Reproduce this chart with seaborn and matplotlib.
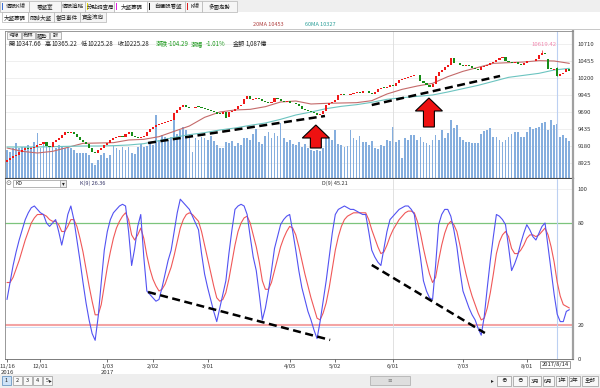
import numpy as np
import matplotlib
matplotlib.use("Agg")
import matplotlib.pyplot as plt
import seaborn as sns
from matplotlib.patches import Rectangle, FancyArrow

sns.set_theme(style="white")
plt.rcParams['font.family'] = ['Noto Sans CJK TC', 'DejaVu Sans']

# ---- data (trading day index 0 = 2016/11/16) ----
close_px = [
    8970, 9000, 9030, 9045, 9090, 9120, 9150, 9140, 9150, 9165,
    9195, 9210, 9240, 9180, 9160, 9240, 9270, 9300, 9345, 9390,
    9375, 9390, 9360, 9315, 9270, 9240, 9210, 9150, 9090, 9075,
    9120, 9150, 9195, 9225, 9270, 9300, 9320, 9330, 9320, 9360,
    9385, 9330, 9315, 9300, 9310, 9330, 9390, 9440, 9465, 9495,
    9510, 9525, 9540, 9560, 9570, 9680, 9720, 9760, 9790, 9760,
    9750, 9755, 9760, 9765, 9750, 9740, 9720, 9700, 9690, 9665,
    9660, 9690, 9600, 9690, 9700, 9740, 9780, 9800, 9890, 9930,
    9880, 9890, 9900, 9890, 9850, 9840, 9830, 9840, 9900, 9880,
    9850, 9840, 9850, 9830, 9820, 9810, 9780, 9740, 9720, 9700,
    9690, 9670, 9650, 9660, 9700, 9800, 9830, 9845, 9870, 9950,
    9960, 9940, 9950, 9960, 9980, 9990, 9975, 10000, 10010, 9980,
    9960, 9990, 10030, 10050, 10050, 10060, 10090, 10080, 10120, 10170,
    10185, 10200, 10210, 10230, 10240, 10245, 10160, 10120, 10100, 10070,
    10110, 10230, 10290, 10320, 10370, 10390, 10500, 10430, 10420, 10390,
    10380, 10390, 10380, 10350, 10330, 10320, 10360, 10380, 10400, 10420,
    10440, 10470, 10500, 10510, 10450, 10440, 10430, 10440, 10410, 10400,
    10430, 10450, 10460, 10450, 10480, 10540, 10580, 10560, 10330, 10335,
    10329.57, 10225.28, 10260, 10280, 10340, 10300,
]
open_px = [
    8940, 8975, 9000, 9030, 9040, 9090, 9120, 9155, 9140, 9150,
    9165, 9200, 9210, 9240, 9185, 9165, 9240, 9270, 9300, 9345,
    9395, 9375, 9390, 9360, 9315, 9270, 9240, 9210, 9150, 9095,
    9075, 9120, 9150, 9195, 9225, 9270, 9300, 9320, 9335, 9320,
    9360, 9385, 9335, 9315, 9300, 9310, 9330, 9390, 9440, 9470,
    9495, 9510, 9525, 9540, 9560, 9575, 9680, 9720, 9760, 9790,
    9765, 9745, 9755, 9770, 9765, 9750, 9740, 9720, 9700, 9690,
    9670, 9660, 9690, 9610, 9690, 9700, 9740, 9780, 9810, 9890,
    9930, 9875, 9890, 9905, 9890, 9855, 9840, 9830, 9845, 9900,
    9880, 9855, 9840, 9850, 9830, 9820, 9810, 9780, 9740, 9720,
    9700, 9690, 9670, 9650, 9660, 9700, 9800, 9830, 9845, 9870,
    9950, 9960, 9940, 9950, 9960, 9980, 9990, 9975, 10000, 10010,
    9980, 9960, 9990, 10030, 10055, 10050, 10060, 10090, 10080, 10120,
    10170, 10185, 10200, 10210, 10230, 10240, 10245, 10160, 10120, 10100,
    10070, 10110, 10230, 10290, 10320, 10370, 10390, 10500, 10430, 10420,
    10390, 10380, 10390, 10380, 10350, 10330, 10320, 10360, 10380, 10400,
    10420, 10440, 10470, 10500, 10510, 10450, 10440, 10430, 10440, 10410,
    10400, 10430, 10450, 10460, 10450, 10480, 10540, 10580, 10480, 10340,
    10320, 10347.66, 10230, 10260, 10290, 10330,
]
# turnover, 億
volume = [
    560, 520, 600, 700, 600, 620, 620, 660, 620, 720,
    900, 600, 700, 660, 620, 660, 600, 660, 620, 600,
    620, 600, 560, 500, 500, 500, 500, 460, 300, 260,
    360, 460, 500, 400, 460, 640, 600, 560, 620, 560,
    620, 500, 480, 620, 680, 620, 640, 700, 660, 1260,
    760, 860, 820, 760, 820, 1160, 880, 960, 1020, 960,
    860, 520, 800, 760, 820, 800, 760, 840, 740, 660,
    600, 600, 720, 700, 740, 640, 700, 660, 800, 800,
    760, 880, 980, 720, 680, 840, 920, 800, 900, 840,
    1100, 800, 720, 760, 680, 660, 720, 620, 680, 600,
    560, 540, 560, 540, 600, 860, 800, 760, 960, 680,
    660, 620, 640, 960, 800, 760, 840, 720, 720, 660,
    740, 600, 580, 660, 640, 760, 740, 1020, 720, 760,
    400, 800, 760, 860, 860, 760, 820, 720, 700, 660,
    760, 860, 760, 960, 800, 900, 1160, 1000, 1060, 820,
    760, 720, 720, 700, 700, 700, 880, 940, 960, 1000,
    820, 820, 760, 720, 760, 820, 880, 920, 920, 820,
    820, 920, 1020, 980, 1000, 1020, 1100, 1120, 960, 1160,
    1060, 1087, 820, 860, 800, 740,
]
k_line = [
    35, 45, 55, 63, 70, 76, 82, 86, 89, 90,
    88, 86, 85, 80, 78, 80, 82, 75, 67, 75,
    85, 90, 82, 70, 58, 45, 33, 23, 15, 11,
    25, 45, 64, 75, 82, 86, 88, 90, 91, 90,
    75, 55, 65, 78, 85, 60, 40, 38, 36, 34,
    35, 42, 50, 58, 64, 75, 86, 94, 92, 90,
    88, 84, 80, 76, 62, 50, 42, 35, 28, 22,
    30, 38, 46, 62, 76, 88, 90, 91, 90, 85,
    72, 60, 52, 38, 23, 30, 40, 52, 65, 72,
    79, 82, 84, 85, 75, 64, 52, 42, 35, 28,
    23, 17, 12, 22, 34, 46, 60, 74, 85, 88,
    89, 90, 89, 88, 88, 87, 86, 85, 85, 75,
    64, 60, 57, 55, 65, 75, 82, 84, 86, 88,
    89, 90, 90, 88, 85, 72, 60, 46, 40, 36,
    35, 55, 79, 85, 88, 88, 84, 76, 66, 52,
    40, 35, 30, 26, 23, 18, 14, 25, 42, 58,
    72, 85, 84, 82, 79, 66, 52, 56, 61, 68,
    74, 79, 76, 72, 70, 74, 78, 80, 66, 52,
    38, 26.36, 22, 22, 28, 29,
]
d_line = [
    45, 45, 48, 53, 58, 64, 70, 75, 80, 83,
    85, 85, 85, 84, 82, 81, 81, 79, 75, 75,
    78, 82, 82, 78, 71, 63, 53, 43, 34, 26,
    26, 32, 43, 54, 63, 71, 77, 81, 84, 86,
    82, 73, 70, 73, 77, 71, 61, 53, 47, 43,
    40, 41, 44, 49, 54, 61, 69, 77, 82, 85,
    86, 85, 83, 81, 75, 67, 59, 51, 43, 36,
    34, 35, 39, 47, 57, 67, 75, 80, 83, 84,
    80, 73, 66, 57, 46, 41, 41, 45, 52, 59,
    66, 71, 75, 78, 77, 73, 66, 58, 50, 43,
    36, 30, 24, 23, 27, 33, 42, 53, 64, 72,
    78, 82, 84, 85, 86, 86, 86, 86, 86, 82,
    76, 71, 66, 62, 63, 67, 72, 76, 79, 82,
    84, 86, 87, 87, 86, 81, 74, 65, 57, 50,
    45, 48, 58, 67, 74, 79, 81, 79, 75, 67,
    58, 50, 43, 37, 32, 27, 23, 24, 30, 39,
    50, 62, 69, 73, 75, 72, 65, 62, 62, 64,
    67, 71, 73, 73, 72, 73, 75, 77, 73, 66,
    57, 45.21, 37, 32, 31, 30,
]
ma_days = list(range(0, 186, 5))
ma20 = [9150, 9100, 9075, 9100, 9160, 9220, 9225, 9230, 9270, 9280,
        9320, 9400, 9480, 9610, 9690, 9720, 9730, 9770, 9840, 9855,
        9810, 9820, 9825, 9830, 9860, 9960, 10030, 10080, 10120, 10220,
        10300, 10360, 10420, 10430, 10440, 10460, 10455, 10420]
ma60 = [9165, 9165, 9165, 9170, 9175, 9180, 9180, 9185, 9195, 9215,
        9260, 9310, 9350, 9380, 9420, 9450, 9490, 9525, 9580, 9645,
        9690, 9740, 9775, 9800, 9835, 9880, 9905, 9925, 9945, 9990,
        10040, 10090, 10150, 10210, 10240, 10270, 10320, 10345]

tick_days = [0, 11, 33, 48, 66, 93, 108, 127, 150, 171]
tick_labels = ['11/16\n2016', '12/01', '1/03\n2017', '2/02', '3/01', '4/05',
               '5/02', '6/01', '7/03', '8/01']
price_ticks = [10710, 10455, 10200, 9945, 9690, 9435, 9180, 8925]
kd_ticks = [0, 20, 80, 100]

peak_day, peak_high = 176, 10619.42
cursor_day = 181
cursor_high, cursor_low = 10365.22, 10225.28

# hand-drawn trend lines (day, value)
price_trends = [([46.4, 104.6], [9225, 9630]), ([120, 162.2], [9795, 10230])]
kd_trends = [([46.4, 106.3], [39.4, 11.2]), ([120, 157.2], [55.3, 15.3])]
# red arrows: (day, base price, tip price)
arrows = [(101.6, 9150, 9495), (138.8, 9465, 9900)]

days = np.arange(len(close_px))

# ---- figure ----
W, H = 600, 388
fig = plt.figure(figsize=(W / 100, H / 100), dpi=100)
fig.patch.set_facecolor('white')


def rect(x0, y0, x1, y1):
    return [x0 / W, 1 - y1 / H, (x1 - x0) / W, (y1 - y0) / H]


def px_text(x, y, s, **kw):
    kw.setdefault('fontsize', 4.3)
    kw.setdefault('va', 'center')
    kw.setdefault('color', '#222222')
    fig.text(x / W, 1 - y / H, s, **kw)


def px_box(x0, y0, x1, y1, fc='white', ec='#b5b5b5', lw=0.5):
    fig.add_artist(Rectangle((x0 / W, 1 - y1 / H), (x1 - x0) / W, (y1 - y0) / H,
                             transform=fig.transFigure, fc=fc, ec=ec, lw=lw, zorder=1))


XLIM = (-0.66, 186.2)

# volume (behind) and price (front) share the same box
ax_v = fig.add_axes(rect(5, 31, 573, 178))
ax_p = fig.add_axes(rect(5, 31, 573, 178), sharex=ax_v)
ax_p.patch.set_visible(False)

ax_v.bar(days, volume, width=0.58, color='#85aede', linewidth=0)
ax_v.set_ylim(0, 2940)
ax_v.set_xlim(*XLIM)
ax_v.set_yticks([])
for s in ax_v.spines.values():
    s.set_visible(False)
for p in price_ticks:
    ax_v.plot([0, 1], [p, p], transform=ax_p.get_yaxis_transform(),
              color='#ececec', lw=0.6, zorder=0)
ax_v.axvline(127, color='#dcdcdc', lw=0.6)
ax_v.axvline(cursor_day, color='#bcd0f2', lw=0.8)

o = np.array(open_px, dtype=float)
c = np.array(close_px, dtype=float)
colors = np.where(c >= o, '#f01818', '#168c16')
ax_p.bar(days, np.maximum(np.abs(c - o), 9), bottom=np.minimum(o, c),
         width=0.7, color=colors, linewidth=0, zorder=3)
ax_p.vlines(peak_day, c[peak_day], peak_high, color='#f01818', lw=0.5, zorder=3)
ax_p.vlines(cursor_day, cursor_low, cursor_high, color='#168c16', lw=0.5, zorder=3)
ax_p.text(peak_day + 0.6, peak_high + 45, f'{peak_high:.2f}', color='#f28ab0',
          fontsize=4.3, ha='center', va='bottom')

sns.lineplot(x=ma_days, y=ma20, ax=ax_p, color='#c46a6a', lw=0.8, zorder=2)
sns.lineplot(x=ma_days, y=ma60, ax=ax_p, color='#6cc4c0', lw=0.8, zorder=2)

for xs, ys in price_trends:
    ax_p.plot(xs, ys, color='black', lw=1.8, dashes=(3.2, 1.8), zorder=4)
for ax_day, base, tip in arrows:
    ax_p.add_patch(FancyArrow(ax_day, base, 0, tip - base, width=3.6, head_width=8.9,
                              head_length=195, length_includes_head=True,
                              fc='#ee1111', ec='black', lw=0.8, zorder=5))

ax_p.set_xlim(*XLIM)
ax_p.set_ylim(8700, 10905)
ax_p.set_xticks([])
ax_p.yaxis.tick_right()
ax_p.set_yticks(price_ticks)
ax_p.set_yticklabels([str(t) for t in price_ticks])
ax_p.tick_params(axis='y', length=0, pad=3.5, labelsize=4.3, colors='#333333')
ax_p.set_xlabel('')
ax_p.set_ylabel('')
ax_p.spines['left'].set_color('#888888')
ax_p.spines['left'].set_linewidth(0.6)
ax_p.spines['top'].set_color('#888888')
ax_p.spines['top'].set_linewidth(0.6)
ax_p.spines['right'].set_color('#a0a0a0')
ax_p.spines['right'].set_linewidth(1.6)
ax_p.spines['bottom'].set_color('#444444')
ax_p.spines['bottom'].set_linewidth(0.8)

# ---- KD panel ----
ax_k = fig.add_axes(rect(5, 179, 573, 359))
ax_k.axhline(100, color='#efefef', lw=0.6)
ax_k.axhline(80, color='#7cc47c', lw=0.9)
ax_k.axhline(20, color='#f4a4a4', lw=1.5)
ax_k.axhline(18.6, color='#c8daf4', lw=0.6)
ax_k.axvline(127, color='#dcdcdc', lw=0.6)
ax_k.axvline(cursor_day, color='#bcd0f2', lw=0.8)
sns.lineplot(x=days, y=d_line, ax=ax_k, color='#f05858', lw=0.8)
sns.lineplot(x=days, y=k_line, ax=ax_k, color='#5252f2', lw=0.8)
for xs, ys in kd_trends:
    ax_k.plot(xs, ys, color='black', lw=1.8, dashes=(3.2, 1.8), zorder=4)
ax_k.set_xlim(*XLIM)
ax_k.set_ylim(0, 100 + 10 / 1.7)
ax_k.yaxis.tick_right()
ax_k.set_yticks(kd_ticks)
ax_k.set_yticklabels([str(t) for t in kd_ticks])
ax_k.set_xticks(tick_days)
ax_k.set_xticklabels(tick_labels)
ax_k.tick_params(axis='y', length=0, pad=3.5, labelsize=4.3, colors='#333333')
ax_k.tick_params(axis='x', length=2, width=0.5, pad=1.5, labelsize=4.3,
                 colors='#333333', bottom=True)
ax_k.set_xlabel('')
ax_k.set_ylabel('')
ax_k.spines['top'].set_visible(False)
ax_k.spines['left'].set_color('#888888')
ax_k.spines['left'].set_linewidth(0.6)
ax_k.spines['right'].set_color('#a0a0a0')
ax_k.spines['right'].set_linewidth(1.6)
ax_k.spines['bottom'].set_color('#666666')
ax_k.spines['bottom'].set_linewidth(0.6)

px_text(555, 364.5, '2017/8/14', ha='center', fontsize=4.2,
        bbox=dict(boxstyle='square,pad=0.25', fc='white', ec='#777777', lw=0.5))

# ---- window chrome ----
px_box(0, 0, 600, 12, fc='#efefef', ec='none')
tabs = [(0, 29, '個股K線', '#3a6fd8'), (29, 61, '看盤室', None), (61, 85, '個股追蹤', None),
        (85, 114, '分點調查局', '#e6d600'), (114, 147, '大盤籌碼', '#e020e0'),
        (147, 185, '自選股看盤', '#111111'), (185, 202, 'K線', '#e02020'),
        (202, 237, '多圖走勢', None)]
for x0, x1, label, mark in tabs:
    px_box(x0, 1, x1, 11.5, fc='white' if label == '大盤籌碼' else '#f6f6f6')
    if mark:
        px_box(x0 + 2, 3, x0 + 2.8, 9.5, fc=mark, ec='none')
    px_text((x0 + x1) / 2 + (1.5 if mark else 0), 6.5, label, ha='center', fontsize=4)

sub_tabs = [(2, 28, '大盤籌碼'), (28, 54, '即時大盤'), (54, 80, '當日事件'), (80, 106, '資金流向')]
for x0, x1, label in sub_tabs:
    px_box(x0, 12.5, x1, 21.5, fc='white' if x0 == 2 else '#f4f4f4')
    px_text((x0 + x1) / 2, 17, label, ha='center', fontsize=4)
px_box(0, 21.5, 600, 22, fc='#d0d0d0', ec='none')

px_box(240, 24.7, 247, 25.3, fc='#c46a6a', ec='none')
px_text(253, 25, '20MA 10453', color='#b04040', fontsize=4)
px_box(290, 24.7, 300, 25.3, fc='#6cc4c0', ec='none')
px_text(305, 25, '60MA 10327', color='#2a9e98', fontsize=4)
px_box(0, 29, 600, 29.8, fc='#c8c8c8', ec='none')

for x0, x1, label in [(7, 21, '均線'), (22, 35, '布林'), (36, 49, '趨勢'), (50, 61, '談')]:
    px_box(x0, 32, x1, 38.5, fc='#f6f6f6', ec='#999999')
    px_text((x0 + x1) / 2, 35.3, label, ha='center', fontsize=3.8)

stats = [(8, '開', '#222222'), (15, '10347.66', '#222222'), (45, '高', '#222222'),
         (51, '10365.22', '#222222'), (81, '低', '#222222'), (88, '10225.28', '#222222'),
         (118, '收', '#222222'), (124, '10225.28', '#222222'), (156, '漲跌', '#1f9a1f'),
         (168, '-104.29', '#1f9a1f'), (191, '漲幅', '#1f9a1f'), (206, '-1.01%', '#1f9a1f'),
         (233, '金額', '#222222'), (246, '1,087億', '#222222')]
for x, s, col in stats:
    px_text(x, 44, s, color=col, fontsize=4.4)

# KD header
px_text(8, 183, '⊙', ha='center', fontsize=5, family='DejaVu Sans', color='#666666')
px_box(13, 179.5, 66, 187, fc='white', ec='#999999')
px_box(60, 180, 66, 186.5, fc='#eeeeee', ec='#999999')
px_text(63, 183.2, '▾', ha='center', fontsize=4, family='DejaVu Sans')
px_text(16, 183.2, 'KD', fontsize=3.8)
px_box(73, 182.6, 79, 183.4, fc='#5252f2', ec='none')
px_text(80, 183, 'K(9) 26.36', fontsize=4, color='#333366')
px_box(313, 182.6, 319, 183.4, fc='#f05858', ec='none')
px_text(322, 183, 'D(9) 45.21', fontsize=4, color='#333333')

# bottom toolbar
px_box(0, 374, 600, 388, fc='#eeeeee', ec='none')
for n, x0 in enumerate([2, 12.5, 22.5, 32.5, 42.5]):
    px_box(x0, 376, x0 + 9, 385, fc='#cfe3f7' if n == 0 else '#f8f8f8',
           ec='#5588bb' if n == 0 else '#999999')
    px_text(x0 + 4.5, 380.5, str(n + 1), ha='center', fontsize=4)
px_text(50, 380.5, '▸', ha='center', fontsize=4, family='DejaVu Sans')
px_box(370, 376, 410, 384.5, fc='#dedede', ec='#aaaaaa')
px_text(390, 380.3, '≡', ha='center', fontsize=4, family='DejaVu Sans', color='#777777')
px_text(492, 380.5, '▸', ha='center', fontsize=4, family='DejaVu Sans')
for x0, x1, label in [(497, 511, '⊕'), (513, 527, '⊖'), (529, 541, '3月'), (543, 554, '6月'),
                      (556, 567, '1年'), (569, 580, '2年'), (582, 598, '全部')]:
    px_box(x0, 376, x1, 386, fc='#f8f8f8', ec='#999999')
    px_text((x0 + x1) / 2, 381, label, ha='center', fontsize=4)

fig.savefig('out.png', dpi=100, facecolor='white')
